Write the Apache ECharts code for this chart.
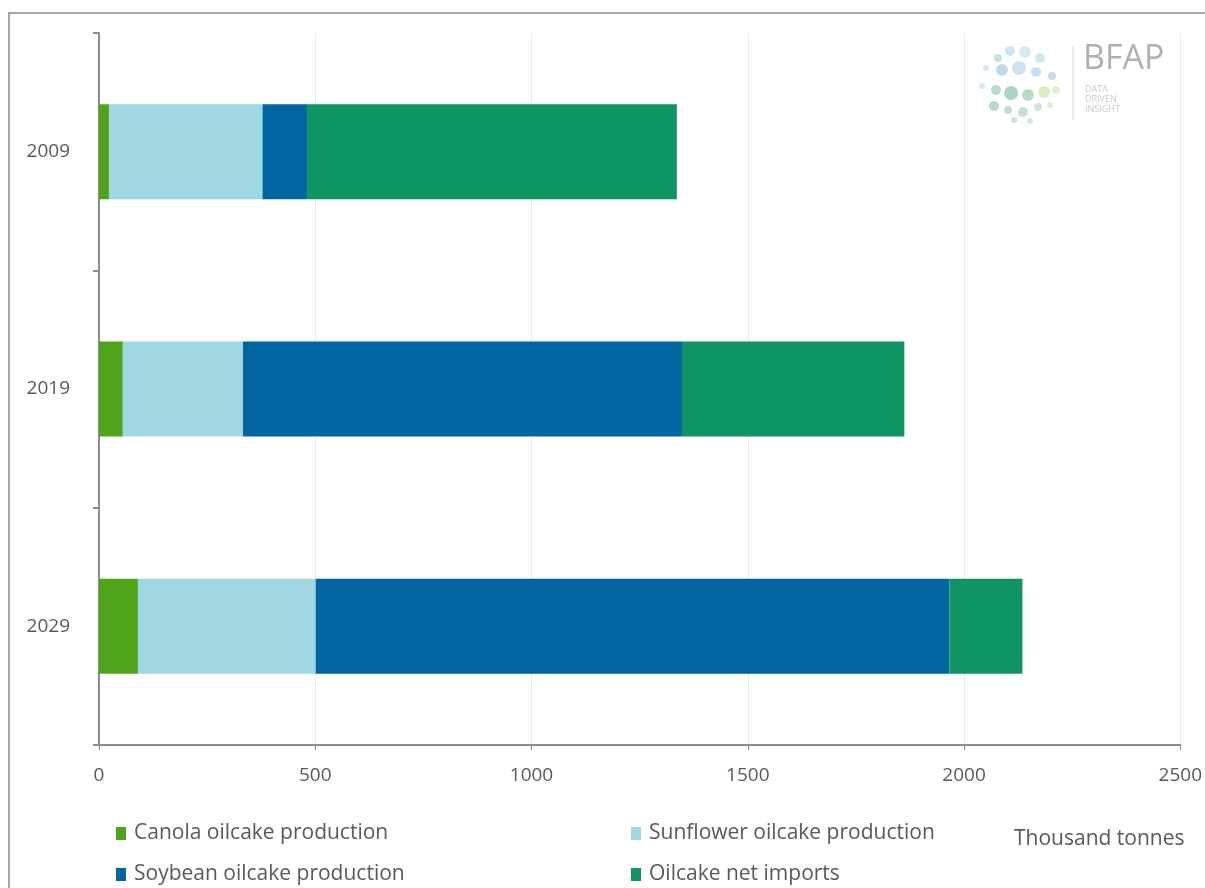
<!DOCTYPE html>
<html>
<head>
<meta charset="utf-8">
<script src="https://cdn.jsdelivr.net/npm/echarts@6/dist/echarts.min.js"></script>
<style>
  html, body { margin: 0; padding: 0; background: #ffffff; }
  #chart { width: 1205px; height: 888px; }
</style>
</head>
<body>
<div id="chart"></div>
<script>
// Oilcake supply by source, thousand tonnes
const years = ['2009', '2019', '2029'];
const canola = [23, 55, 90];
const sunflower = [355, 278, 411];
const soybean = [103, 1015, 1465];
const netImports = [855, 514, 169];
const xTicks = [0, 500, 1000, 1500, 2000, 2500];

const seriesNames = [
  'Canola oilcake production',
  'Sunflower oilcake production',
  'Soybean oilcake production',
  'Oilcake net imports'
];
const seriesColors = ['#4fa41a', '#9fd8e2', '#0065a0', '#0f9561'];
const seriesData = [canola, sunflower, soybean, netImports];

const textColor = '#595959';
const fontFamily = '"Open Sans", sans-serif';

const chart = echarts.init(document.getElementById('chart'));

// logo: dotted circle cluster
const logoDots = [
  [998, 58, 4, '#b9d9ea'], [1010, 51, 5, '#c5e0ee'], [1025, 52, 6, '#cfe6f1'], [1040, 58, 5, '#c8e1ee'],
  [986, 68, 3, '#cde4ef'], [1002, 70, 6, '#b3d5e8'], [1019, 68, 7, '#c3def0'], [1036, 72, 5, '#bcdcec'],
  [1052, 76, 4, '#b5d7ea'], [982, 86, 3, '#cfe6ee'], [996, 90, 5, '#a9d6c8'], [1011, 93, 7, '#9ccdb8'],
  [1028, 95, 6, '#aed5c2'], [1044, 92, 6, '#d5ebb4'], [1056, 90, 4, '#dcefbf'], [994, 106, 5, '#a6d2c0'],
  [1008, 110, 4, '#b0d8c6'], [1023, 112, 5, '#b8dccb'], [1038, 107, 4, '#c6e3d4'], [1014, 120, 3, '#c0dfcf'],
  [1030, 121, 3, '#cbe5d8'], [1050, 105, 3, '#d8ecc6']
];
const logoGraphics = logoDots.map(d => ({
  type: 'circle',
  shape: { cx: d[0], cy: d[1], r: d[2] },
  style: { fill: d[3], opacity: 0.85 },
  silent: true
}));

chart.setOption({
  backgroundColor: '#ffffff',
  animation: false,
  textStyle: { fontFamily: fontFamily },
  grid: { left: 99, right: 20, top: 33, bottom: 143, containLabel: false },
  xAxis: {
    type: 'value',
    min: 0,
    max: 2500,
    interval: 500,
    axisLine: { show: true, lineStyle: { color: '#8c8c8c', width: 2 } },
    axisTick: { show: true, length: 5, lineStyle: { color: '#8c8c8c', width: 1 } },
    axisLabel: {
      color: textColor, fontSize: 19, margin: 21, fontFamily: fontFamily,
      formatter: v => (xTicks.indexOf(v) >= 0 ? String(v) : '')
    },
    splitLine: { show: true, lineStyle: { color: '#ececec', width: 1 } }
  },
  yAxis: {
    type: 'category',
    data: years,
    inverse: true,
    axisLine: { show: true, lineStyle: { color: '#8c8c8c', width: 2 } },
    axisTick: { show: true, length: 6, lineStyle: { color: '#8c8c8c', width: 2 } },
    axisLabel: { color: textColor, fontSize: 19, margin: 29, fontFamily: fontFamily },
    splitLine: { show: false }
  },
  legend: [0, 1, 2, 3].map(i => ({
    data: [seriesNames[i]],
    left: i % 2 === 0 ? 116 : 631,
    top: i < 2 ? 823 : 864,
    icon: 'rect',
    itemWidth: 10,
    itemHeight: 13,
    itemGap: 0,
    padding: 0,
    selectedMode: false,
    textStyle: { color: textColor, fontSize: 21, fontFamily: fontFamily, padding: [0, 0, 0, 3] }
  })),
  series: seriesNames.map((name, i) => ({
    name: name,
    type: 'bar',
    stack: 'total',
    barWidth: '40%',
    itemStyle: { color: seriesColors[i] },
    emphasis: { disabled: true },
    data: seriesData[i]
  })),
  graphic: [
    {
      type: 'rect',
      shape: { x: 9, y: 13, width: 1400, height: 1000 },
      style: { fill: null, stroke: '#a6a6a6', lineWidth: 2 },
      silent: true,
      z: 100
    },
    {
      type: 'text',
      left: 1014,
      top: 829,
      style: { text: 'Thousand tonnes', fill: textColor, font: '21px ' + fontFamily },
      silent: true
    },
    ...logoGraphics,
    {
      type: 'line',
      shape: { x1: 1073, y1: 46, x2: 1073, y2: 120 },
      style: { stroke: '#d9d9d9', lineWidth: 1 },
      silent: true
    },
    {
      type: 'text',
      left: 1083,
      top: 42,
      style: { text: 'BFAP', fill: '#b0b0b0', font: '34px ' + fontFamily },
      silent: true
    },
    {
      type: 'text',
      left: 1085,
      top: 84,
      style: { text: 'DATA\nDRIVEN\nINSIGHT', fill: '#c8c8c8', font: '9px ' + fontFamily, lineHeight: 10 },
      silent: true
    }
  ]
});
</script>
</body>
</html>
